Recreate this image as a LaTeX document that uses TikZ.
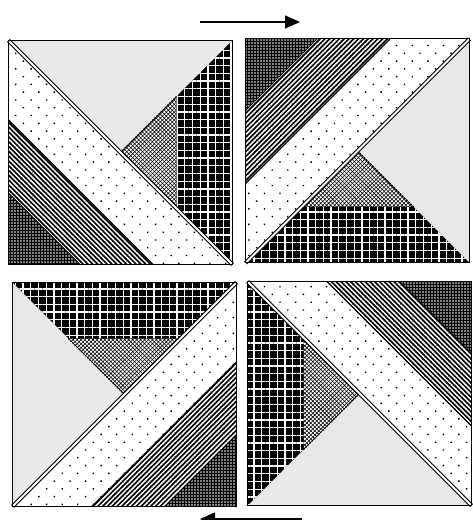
\documentclass[tikz,border=0pt]{standalone}
\usetikzlibrary{patterns.meta,arrows.meta}
\definecolor{qg}{HTML}{E8E8E8}
\tikzset{
 qgray/.style={fill=qg},
 qdots/.style={preaction={fill=white}, pattern={Dots[angle=45,distance=11pt,radius=1pt]}, pattern color=black},
 qstripe/.style={preaction={fill=black}, pattern={Lines[angle=#1,distance=3.4pt,line width=1.5pt]}, pattern color=white},
 qgrid/.style={preaction={fill=black}, pattern={Hatch[angle=0,distance=7.7pt,line width=1.3pt]}, pattern color=white},
 qcross/.style={preaction={fill=white}, pattern={Hatch[angle=45,distance=2.8pt,line width=0.55pt]}, pattern color=black},
 qdark/.style={preaction={fill=black}, pattern={Dots[distance=3pt,radius=0.8pt]}, pattern color=white},
 qdash/.style={line width=1.2pt, dash pattern=on 1.5pt off 1.5pt},
 qarrow/.style={line width=1.3pt, -{Triangle[length=15pt,width=13pt]}},
}
\newcommand\quiltblock[5]{%
\begin{scope}[shift={(#1pt,#2pt)}, x={#3}, y={#4}]
 \path[qgray] (-.5,-.5) -- (.5,-.5) -- (0,0) -- cycle;
 \path[qcross,draw,line width=0.5pt] (0,0) -- (.25,-.25) -- (.25,.25) -- cycle;
 \draw[qdash] (0,0) -- (.25,-.25);
 \path[qgrid] (.25,-.25) -- (.5,-.5) -- (.5,.5) -- (.25,.25) -- cycle;
 \path[qdots] (-.5,-.5) -- (-.5,-.145) -- (.145,.5) -- (.5,.5) -- cycle;
 \path[qstripe=#5] (-.5,-.145) -- (-.5,.18) -- (-.18,.5) -- (.145,.5) -- cycle;
 \path[qdark] (-.5,.18) -- (-.5,.5) -- (-.18,.5) -- cycle;
 \draw[line width=1.2pt] (-.5,-.145) -- (.145,.5);
 \draw[line width=0.8pt] (-.5,.18) -- (-.18,.5);
 \draw[line width=1.1pt,double=white,double distance=2pt] (-.5,-.5) -- (.5,.5);
 \draw[line width=1pt] (-.5,-.5) -- (.5,-.5) -- (.5,.5) -- (-.5,.5) -- cycle;
\end{scope}}
\begin{document}
\begin{tikzpicture}
\useasboundingbox (0,0) rectangle (472pt,520pt);
\quiltblock{120.5}{367.5}{{(224pt,0pt)}}{{(0pt,-224pt)}}{-45}
\quiltblock{357.5}{369}{{(0pt,-224pt)}}{{(-224pt,0pt)}}{45}
\quiltblock{359.5}{126.5}{{(-224pt,0pt)}}{{(0pt,224pt)}}{-45}
\quiltblock{124.5}{125.5}{{(0pt,224pt)}}{{(224pt,0pt)}}{45}
\coordinate (t1) at (200pt,498pt);
\coordinate (t2) at (300pt,498pt);
\draw[qarrow] (t1) -- (t2);
\coordinate (b1) at (302pt,1pt);
\coordinate (b2) at (200pt,1pt);
\draw[qarrow] (b1) -- (b2);
\end{tikzpicture}
\end{document}
